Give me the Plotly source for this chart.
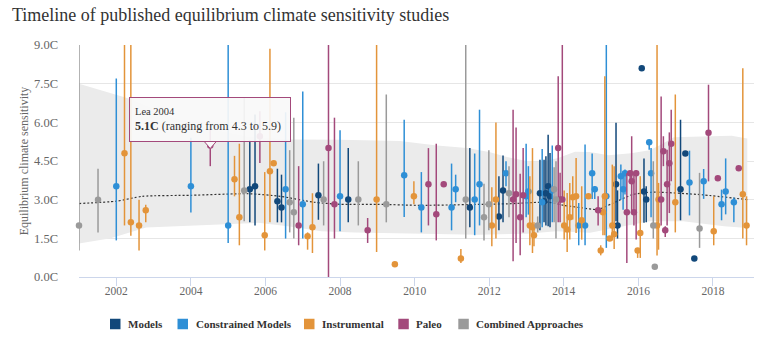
import plotly.graph_objects as go

# ---------------- data ----------------
categories = ["Models", "Constrained Models", "Instrumental", "Paleo", "Combined Approaches"]
colors = ["#12487a", "#2e8fd6", "#e3943a", "#a3497b", "#9a9a9a"]

# Models
models_year = [2005.58, 2005.72, 2006.32, 2006.43, 2007.42, 2008.22, 2011.48, 2012.26, 2012.37,
               2013.36, 2013.47, 2013.52, 2013.58, 2013.63, 2015.40, 2015.44, 2016.09, 2016.15,
               2016.21, 2017.13, 2017.26, 2017.50]
models_val = [3.40, 3.52, 2.94, 2.70, 3.17, 3.01, 2.70, 2.35, 3.36,
              3.25, 2.94, 3.25, 3.52, 3.13, 3.60, 2.00, 8.10, 3.32,
              3.01, 3.40, 4.79, 0.72]
models_low = [2.12, 2.00, 2.12, 2.12, 2.22, 2.12, 1.93, 1.81, 2.12,
              1.81, 2.12, 2.00, 1.97, 1.93, 2.16, 1.49, 8.10, 2.10,
              2.12, 2.20, 4.79, 0.72]
models_high = [5.30, 6.30, 4.20, 3.97, 4.40, 5.00, 5.00, 3.91, 4.71,
               4.55, 4.55, 4.68, 5.52, 4.81, 5.98, 3.36, 8.10, 4.60,
               3.52, 6.10, 4.79, 0.72]

# Constrained Models
constrained_year = [2002.00, 2004.00, 2005.00, 2006.54, 2007.00, 2008.00, 2009.72, 2010.18, 2010.99,
                    2011.10, 2011.61, 2011.74, 2012.45, 2012.99, 2013.05, 2013.42, 2013.69, 2014.40,
                    2014.57, 2014.76, 2014.83, 2015.14, 2015.53, 2015.59, 2015.64, 2016.29, 2016.34,
                    2017.37, 2017.75, 2018.23, 2018.34, 2018.56]
constrained_val = [3.52, 3.52, 2.00, 3.40, 2.82, 3.13, 3.95, 2.70, 2.70,
                   3.40, 3.01, 3.60, 4.02, 3.13, 3.32, 2.90, 3.36, 2.00,
                   2.00, 4.02, 3.40, 3.13, 3.91, 3.40, 4.02, 5.23, 4.02,
                   3.67, 3.71, 2.82, 3.32, 2.90]
constrained_low = [1.42, 2.50, 1.32, 1.49, 1.49, 1.77, 2.33, 1.73, 1.81,
                   2.90, 1.62, 2.00, 3.52, 2.32, 2.42, 1.93, 2.12, 1.23,
                   1.23, 3.03, 3.03, 1.13, 3.00, 2.61, 3.20, 4.94, 2.32,
                   2.39, 3.03, 2.20, 2.43, 2.12]
constrained_high = [7.70, 5.40, 9.00, 6.39, 7.20, 5.69, 6.10, 4.07, 4.40,
                    3.97, 4.79, 6.49, 4.49, 5.17, 4.30, 4.97, 5.10, 2.87,
                    5.14, 4.79, 3.52, 9.00, 4.36, 3.97, 4.17, 5.23, 5.00,
                    4.90, 4.19, 3.39, 4.60, 3.08]

# Instrumental
instrumental_year = [2002.22, 2002.39, 2002.61, 2002.79, 2005.17, 2005.30, 2005.98, 2006.12, 2006.22,
                     2007.13, 2007.26, 2008.98, 2009.47, 2009.98, 2011.24, 2012.07, 2012.18, 2013.09,
                     2013.16, 2013.20, 2014.01, 2014.09, 2014.16, 2014.24, 2014.33, 2014.48, 2014.66,
                     2014.99, 2015.05, 2015.10, 2015.23, 2015.30, 2015.35, 2015.98, 2016.05, 2016.50,
                     2016.54, 2016.99, 2018.02, 2018.80, 2018.90]
instrumental_val = [4.80, 2.12, 2.00, 2.59, 3.79, 2.32, 1.62, 4.10, 4.41,
                    1.58, 1.93, 3.01, 0.49, 3.13, 0.72, 2.00, 3.01, 2.00,
                    1.93, 1.62, 2.00, 1.84, 2.32, 3.09, 3.13, 2.20, 3.13,
                    1.03, 2.51, 3.13, 1.49, 2.00, 1.66, 1.03, 1.71, 2.00,
                    3.01, 2.90, 1.77, 3.21, 2.00]
instrumental_low = [2.00, 1.60, 1.03, 2.12, 3.13, 1.23, 1.03, 2.12, 4.41,
                    1.06, 0.93, 0.97, 0.49, 2.82, 0.54, 1.19, 1.49, 1.23,
                    0.93, 1.19, 1.45, 0.97, 1.45, 2.23, 1.71, 1.45, 3.13,
                    0.84, 1.62, 1.62, 1.49, 1.42, 1.09, 0.74, 0.74, 0.83,
                    1.06, 1.73, 1.23, 1.49, 1.23]
instrumental_high = [9.00, 9.00, 3.00, 2.80, 4.70, 5.17, 4.07, 8.85, 4.41,
                     1.73, 3.25, 9.00, 0.49, 3.71, 1.09, 3.48, 5.99, 3.91,
                     5.00, 2.12, 3.36, 3.26, 3.65, 3.91, 4.62, 3.52, 3.13,
                     1.23, 3.13, 7.79, 1.49, 4.36, 4.30, 1.03, 3.91, 9.00,
                     3.65, 7.08, 3.13, 8.10, 3.13]

# Paleo
paleo_year = [2004.52, 2005.85, 2006.89, 2007.69, 2007.85, 2008.74, 2010.37, 2010.58, 2010.78,
              2012.64, 2012.72, 2012.83, 2012.91, 2013.85, 2013.90, 2013.96, 2014.92, 2015.69,
              2015.78, 2015.82, 2015.88, 2015.94, 2016.61, 2016.67, 2016.72, 2016.77, 2016.83,
              2016.88, 2017.88, 2018.13, 2018.69]
paleo_val = [5.10, 5.46, 2.00, 5.00, 2.82, 1.81, 3.60, 2.43, 3.60,
             3.01, 3.21, 2.32, 3.17, 5.00, 3.01, 3.01, 2.59, 2.51,
             4.02, 3.71, 2.51, 4.02, 3.01, 4.88, 1.81, 3.60, 4.41,
             5.17, 5.60, 3.83, 4.22]
paleo_low = [4.30, 4.42, 1.23, 0.00, 1.49, 1.32, 2.00, 1.42, 3.52,
             0.61, 1.32, 0.84, 1.73, 2.12, 2.12, 3.01, 2.00, 0.54,
             3.78, 2.48, 2.00, 1.45, 2.00, 4.30, 1.55, 2.00, 2.48,
             3.71, 3.71, 3.83, 4.22]
paleo_high = [5.90, 6.43, 4.30, 9.00, 6.18, 2.29, 5.00, 5.17, 3.67,
              6.49, 5.80, 4.01, 5.00, 7.79, 4.04, 9.00, 3.13, 4.02,
              4.10, 5.46, 4.04, 4.14, 7.00, 5.46, 1.97, 4.94, 5.61,
              6.49, 7.46, 3.83, 4.22]

# Combined Approaches
combined_year = [2001.00, 2001.51, 2005.43, 2006.65, 2006.76, 2007.56, 2008.49, 2009.24, 2011.37,
                 2011.86, 2011.99, 2012.53, 2013.30, 2013.74, 2013.79, 2016.40, 2016.44, 2017.64]
combined_val = [2.00, 3.00, 3.36, 2.90, 2.51, 3.01, 3.01, 2.82, 3.01,
                2.32, 2.82, 3.25, 2.00, 3.40, 3.01, 2.00, 0.40, 1.88]
combined_low = [1.03, 1.73, 2.16, 1.73, 1.49, 2.00, 2.00, 2.12, 1.49,
                1.42, 1.81, 2.32, 1.73, 2.12, 1.49, 1.49, 0.40, 1.13]
combined_high = [9.00, 4.20, 6.95, 4.92, 6.18, 4.49, 4.49, 7.08, 9.00,
                 3.62, 4.92, 4.30, 2.35, 4.26, 4.49, 4.49, 0.40, 4.04]

# Range band and trend line
band_upper_year = [2001.0, 2002.4, 2003.5, 2004.5, 2005.5, 2006.7, 2008.0, 2009.6, 2010.6, 2011.4,
                   2012.0, 2012.5, 2013.0, 2013.4, 2013.85, 2014.3, 2014.7, 2015.2, 2015.8, 2016.3,
                   2016.6, 2016.95, 2017.7, 2018.5, 2018.92]
band_upper = [7.50, 6.90, 6.20, 5.75, 5.45, 5.33, 5.32, 5.28, 5.10, 5.00,
              4.85, 4.65, 4.50, 4.47, 4.62, 4.86, 4.85, 4.72, 4.80, 4.92,
              5.13, 5.42, 5.45, 5.48, 5.37]
band_lower_year = [2001.0, 2001.85, 2002.8, 2004.0, 2005.0, 2005.8, 2006.6, 2007.5, 2008.4, 2010.0,
                   2011.7, 2013.0, 2013.8, 2014.7, 2015.4, 2016.3, 2017.2, 2018.3, 2018.92]
band_lower = [1.30, 1.50, 1.92, 2.00, 2.05, 2.10, 1.97, 1.77, 1.73, 1.68,
              1.64, 1.68, 1.77, 1.72, 1.90, 2.16, 2.16, 1.97, 1.90]
trend_year = [2001.0, 2002.0, 2002.7, 2004.0, 2005.55, 2006.4, 2007.3, 2008.0, 2009.0, 2010.15,
              2011.8, 2012.5, 2013.6, 2014.0, 2014.5, 2014.9, 2015.3, 2015.85, 2016.4, 2017.7, 2018.92]
trend_val = [2.85, 2.94, 3.13, 3.17, 3.23, 3.13, 2.90, 2.82, 2.82, 2.78,
             2.82, 2.84, 2.90, 2.78, 2.68, 2.62, 2.85, 3.20, 3.29, 3.19, 3.00]

x_ticks = [2002, 2004, 2006, 2008, 2010, 2012, 2014, 2016, 2018]
y_ticks = [0.0, 1.5, 3.0, 4.5, 6.0, 7.5, 9.0]
y_tick_labels = ["%.1fC" % v for v in y_ticks]

tooltip_study = "Lea 2004"
tooltip_index = 0  # position of Lea 2004 in the Paleo arrays

series = [
    (models_year, models_val, models_low, models_high),
    (constrained_year, constrained_val, constrained_low, constrained_high),
    (instrumental_year, instrumental_val, instrumental_low, instrumental_high),
    (paleo_year, paleo_val, paleo_low, paleo_high),
    (combined_year, combined_val, combined_low, combined_high),
]

# ---------------- layout geometry ----------------
W, H = 764, 350
ML, MR, MT, MB = 79, 10, 45, 73
PW, PH = W - ML - MR, H - MT - MB
XR = [2001.0, 2019.1]
YR = [0, 9]
FONT = "Liberation Serif"

fig = go.Figure()

# band as one closed polygon
fig.add_trace(go.Scatter(x=band_upper_year + band_lower_year[::-1],
                         y=band_upper + band_lower[::-1], mode="lines",
                         line=dict(width=0, color="#ebebeb"),
                         fill="toself", fillcolor="#ebebeb",
                         hoverinfo="skip", showlegend=False))
# trend
fig.add_trace(go.Scatter(x=trend_year, y=trend_val, mode="lines",
                         line=dict(color="#333333", width=1.2, dash="2px,2px", shape="spline", smoothing=0.6),
                         hoverinfo="skip", showlegend=False))

for name, col, (xs, vs, lo, hi) in zip(categories, colors, series):
    fig.add_trace(go.Scatter(
        x=xs, y=vs, mode="markers", name=name,
        marker=dict(color=col, size=6.5),
        error_y=dict(type="data", symmetric=False,
                     array=[h - v for h, v in zip(hi, vs)],
                     arrayminus=[v - l for v, l in zip(vs, lo)],
                     color=col, thickness=1.5, width=0),
        cliponaxis=False, showlegend=False))

# ---------------- helpers ----------------
def px_to_paper_x(px):
    return (px - ML) / PW

def py_to_paper_y(py):
    return (MT + PH - py) / PH

def xunits(dpx):
    return dpx * (XR[1] - XR[0]) / PW

def yunits(dpy):
    return dpy * (YR[1] - YR[0]) / PH

# tooltip for Lea 2004
tx, tv = paleo_year[tooltip_index], paleo_val[tooltip_index]
tl, th = paleo_low[tooltip_index], paleo_high[tooltip_index]
box_bottom = tv + yunits(3.5)
fig.add_shape(type="path", xref="x", yref="y", layer="above",
              path="M %f %f L %f %f L %f %f Z" % (tx - xunits(6), box_bottom + yunits(0.5),
                                                  tx, box_bottom - yunits(6.5),
                                                  tx + xunits(6), box_bottom + yunits(0.5)),
              fillcolor="rgb(249,249,249)", line=dict(color=colors[3], width=1))
fig.add_annotation(
    x=tx, y=box_bottom, xref="x", yref="y", xanchor="center", yanchor="bottom",
    showarrow=False, align="left", valign="middle",
    text=("<span style='font-size:10.5px'>%s</span><br><b>%.1fC</b> (ranging from %.1f to %.1f)"
          % (tooltip_study, tv, tl, th)),
    font=dict(family=FONT, size=12, color="#333333"),
    bgcolor="rgba(249,249,249,0.92)", bordercolor=colors[3], borderwidth=1, borderpad=5,
    width=150, height=33)

# manual legend
legend_sq_left = [110, 177.5, 304, 398.3, 458.3]
legend_cy = 324
sq = 10.5
for name, col, lx in zip(categories, colors, legend_sq_left):
    fig.add_shape(type="rect", xref="paper", yref="paper",
                  x0=px_to_paper_x(lx), x1=px_to_paper_x(lx + sq),
                  y0=py_to_paper_y(legend_cy + sq / 2), y1=py_to_paper_y(legend_cy - sq / 2),
                  fillcolor=col, line=dict(width=0))
    fig.add_annotation(x=px_to_paper_x(lx + sq + 5.5), y=py_to_paper_y(legend_cy),
                       xref="paper", yref="paper", xanchor="left", yanchor="middle",
                       showarrow=False, text="<b>%s</b>" % name,
                       font=dict(family=FONT, size=11, color="#333333"))

fig.update_layout(
    width=W, height=H, margin=dict(l=ML, r=MR, t=MT, b=MB),
    paper_bgcolor="white", plot_bgcolor="white",
    font=dict(family=FONT, color="#666666"),
    title=dict(text="Timeline of published equilibrium climate sensitivity studies",
               font=dict(family=FONT, size=18, color="#333333"),
               x=12 / W, xanchor="left", xref="container",
               y=1 - 8 / H, yanchor="top", yref="container"),
    showlegend=False,
    xaxis=dict(range=XR, tickvals=x_ticks, ticktext=[str(t) for t in x_ticks],
               showgrid=False, zeroline=False, showline=True, linecolor="#ccd6eb", linewidth=1,
               ticks="outside", ticklen=8, tickcolor="#ccd6eb", ticklabelstandoff=-5,
               tickfont=dict(family=FONT, size=11.5, color="#666666")),
    yaxis=dict(range=YR, tickvals=y_ticks, ticktext=y_tick_labels,
               showgrid=True, gridcolor="#e6e6e6", gridwidth=1, zeroline=False, showline=False,
               ticks="", ticklabelstandoff=20,
               tickfont=dict(family=FONT, size=12.5, color="#666666"),
               title=dict(text="Equilibrium climate sensitivity", standoff=2,
                          font=dict(family=FONT, size=12, color="#666666"))),
)

fig.write_html("out.html")
